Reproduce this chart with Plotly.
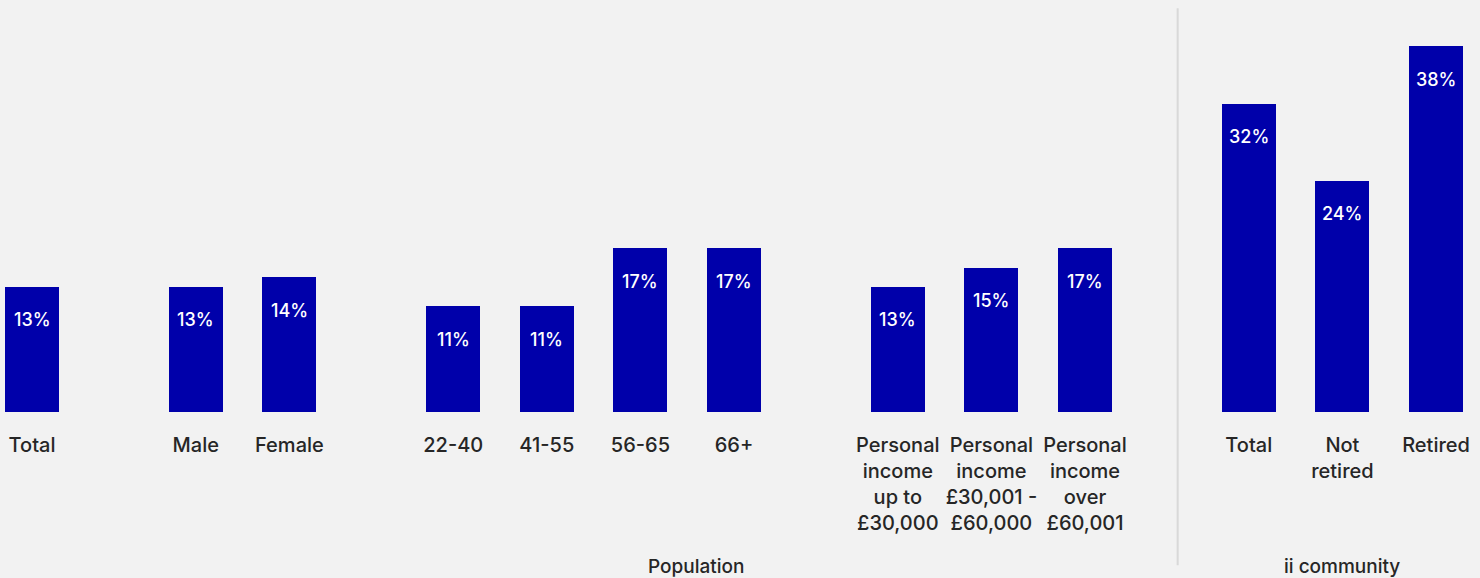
import plotly.graph_objects as go

# Survey results: share of respondents, by group
population_labels = ["Total", "Male", "Female", "22-40", "41-55", "56-65", "66+",
                     "Personal<br>income<br>up to<br>£30,000",
                     "Personal<br>income<br>£30,001 -<br>£60,000",
                     "Personal<br>income<br>over<br>£60,001"]
population_values = [13, 13, 14, 11, 11, 17, 17, 13, 15, 17]
population_blocks = [0, 1, 1, 2, 2, 2, 2, 3, 3, 3]  # sub-group of each bar

community_labels = ["Total", "Not<br>retired", "Retired"]
community_values = [32, 24, 38]

group_titles = ["Population", "ii community"]

BAR_COLOR = "#0000AA"
BG = "#F2F2F2"
TEXT = "#262626"
FONT = "Inter"
GAP = 0.75  # extra spacing between sub-groups, in bar slots

# x positions: one slot per bar plus a gap between sub-groups
pop_x = [i + b * GAP for i, b in enumerate(population_blocks)]
comm_start = pop_x[-1] + 1 + GAP
comm_x = [comm_start + i for i in range(len(community_values))]

xs = pop_x + comm_x
vals = population_values + community_values
labels = population_labels + community_labels

fig = go.Figure()
fig.add_trace(go.Bar(
    x=xs, y=vals, width=0.577,
    marker=dict(color=BAR_COLOR, line=dict(width=0)),
    hoverinfo="skip",
))

# value labels inside the top of each bar
for x, v in zip(xs, vals):
    fig.add_annotation(x=x, y=v, text=f"{v}%", showarrow=False,
                       yanchor="middle", yshift=-33,
                       font=dict(family=FONT, size=18, color="white", weight=500))

# group titles below the category labels
for gx, title in zip([7.09, comm_x[1]], group_titles):
    fig.add_annotation(x=gx, y=-0.375, yref="paper", text=title,
                       showarrow=False, yanchor="middle",
                       font=dict(family=FONT, size=19, color=TEXT, weight=500))

# divider between the two groups
div_x = pop_x[-1] + 0.99
fig.add_shape(type="line", x0=div_x, x1=div_x, y0=0.98, y1=-0.372,
              xref="x", yref="paper", line=dict(color="#D9D9D9", width=2))

fig.update_layout(
    width=1480, height=578,
    margin=dict(l=0, r=0, t=0, b=166),
    paper_bgcolor=BG, plot_bgcolor=BG,
    showlegend=False,
    bargap=0,
    font=dict(family=FONT, color=TEXT, size=20),
    xaxis=dict(range=[-0.342, 15.47], tickvals=xs, ticktext=labels,
               showgrid=False, zeroline=False, showline=False, ticks="",
               tickfont=dict(family=FONT, size=20, color=TEXT, weight=500),
               ticklabelstandoff=19, fixedrange=True),
    yaxis=dict(range=[0, 42.78], visible=False, fixedrange=True),
)

fig.write_html("out.html")
